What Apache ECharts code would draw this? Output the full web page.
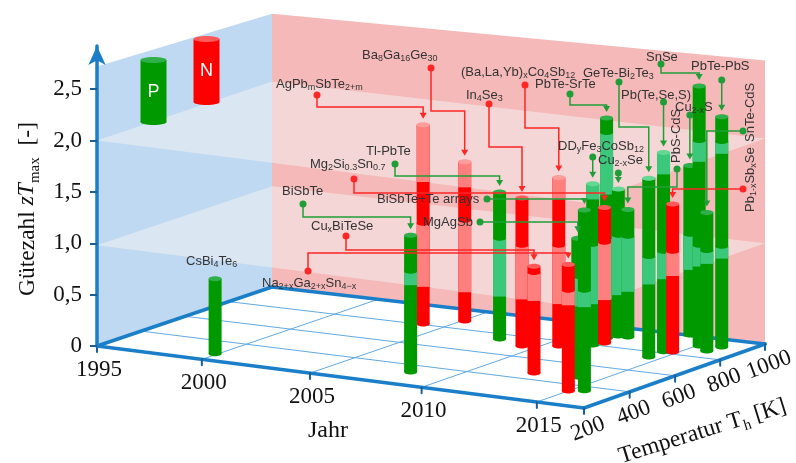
<!DOCTYPE html>
<html>
<head>
<meta charset="utf-8">
<style>
  html, body { margin: 0; padding: 0; background: #fff; }
  #chart { width: 796px; height: 463px; }
</style>
<script src="https://cdn.jsdelivr.net/npm/echarts@6/dist/echarts.min.js"></script>
</head>
<body>
<div id="chart"></div>
<script>
// values, same order in every array
var barNames = ['CsBi_{4}Te_{6}', 'BiSbTe', 'AgPb_{m}SbTe_{2+m}', 'Ba_{8}Ga_{16}Ge_{30}', 'Tl-PbTe', 'In_{4}Se_{3}',
  '(Ba,La,Yb)_{x}Co_{4}Sb_{12}', 'Cu_{x}BiTeSe', 'Na_{2+x}Ga_{2+x}Sn_{4\u2212x}', 'BiSbTe+Te arrays', 'MgAgSb',
  'Mg_{2}Si_{0.3}Sn_{0.7}', 'DD_{y}Fe_{3}CoSb_{12}', 'PbTe-SrTe', 'Cu_{2-x}Se', 'PbS-CdS', 'GeTe-Bi_{2}Te_{3}',
  'Pb(Te,Se,S)', 'Pb_{1-x}Sb_{x}Se', 'Cu_{2-x}S', 'SnSe', 'SnTe-CdS', 'PbTe-PbS'];
var barYears = [1999.9, 2008.2, 2004.0, 2005.1, 2008.0, 2009.4, 2010.6, 2012.3, 2015.0, 2015.5, 2014.05,
  2011.8, 2011.6, 2011.4, 2011.6, 2012.0, 2014.5, 2014.5, 2014.8, 2013.8, 2015.1, 2015.8, 2015.9];
var barTemps = [269, 331, 807, 885, 749, 707, 749, 464, 338, 357, 478,
  830, 798, 881, 913, 914, 746, 812, 821, 1004, 908, 868, 924];
var barZT = [0.73, 1.33, 1.94, 1.55, 1.43, 1.44, 1.64, 1.04, 1.23, 1.76, 1.35,
  1.32, 1.57, 2.14, 1.43, 1.24, 1.74, 1.94, 1.44, 1.65, 2.53, 1.35, 2.24];
var barTypes = ['P', 'P', 'N', 'N', 'P', 'N', 'N', 'N', 'N', 'P', 'P',
  'N', 'P', 'P', 'P', 'P', 'P', 'P', 'N', 'P', 'P', 'P', 'P'];

var yearTicks = [1995, 2000, 2005, 2010, 2015];
var tempTicks = [200, 400, 600, 800, 1000];
var zTicks = [0, 0.5, 1, 1.5, 2, 2.5];
var zPlanes = [0.98, 2];
var yearRange = [1995, 2017];
var tempRange = [200, 1000];
var wallTops = [2.72, 2.66, 2.76];

// label placement in page pixels: text pos, dot, elbow height of the leader line
var labelLayout = [
  { text: [186, 262] },
  { text: [282, 192], dot: [303, 204], elbow: 217 },
  { text: [276, 85], dot: [317, 95], elbow: 107 },
  { text: [362, 56], dot: [431, 68], elbow: 111 },
  { text: [366, 152], dot: [395, 164], elbow: 176 },
  { text: [466, 96], dot: [489, 104], elbow: 147 },
  { text: [461, 73], dot: [525, 85], elbow: 128 },
  { text: [311, 227], dot: [346, 236], elbow: 250 },
  { text: [262, 284], dot: [308, 271], elbow: 253 },
  { text: [377, 200], dot: [487, 199], elbow: 199 },
  { text: [423, 223], dot: [480, 222], elbow: 222 },
  { text: [310, 165], dot: [354, 179], elbow: 193 },
  { text: [558, 147], dot: [595, 157], elbow: 157 },
  { text: [535, 85], dot: [570, 94], elbow: 105 },
  { text: [598, 161], dot: [619, 173], elbow: 173 },
  { text: [677, 163], vertical: true, dot: [677, 169], elbow: 187 },
  { text: [583, 74], dot: [619, 82], elbow: 127 },
  { text: [621, 96], dot: [665, 102], elbow: 102 },
  { text: [751, 212], vertical: true, dot: [743, 189], elbow: 189 },
  { text: [675, 108], dot: [690, 115], elbow: 115 },
  { text: [646, 58], dot: [661, 64], elbow: 73 },
  { text: [751, 142], vertical: true, dot: [743, 131], elbow: 131 },
  { text: [691, 67], dot: [722, 80], elbow: 80 }
];

var GRID_LEFT = 97, GRID_RIGHT = 584;
var BAR_W = 13;
var SERIF = '"Liberation Serif", serif';
var SANS = '"Liberation Sans", Arial, sans-serif';
var RED = '#ff0000', GREEN = '#009900';
var colors = {
  P: { dark: GREEN, light: '#3cc87a', capDark: '#2fb04a', capLight: '#62d892', line: '#1f9e38' },
  N: { dark: RED, light: '#ff7f7f', capDark: '#ff5a5a', capLight: '#ff9c9c', line: '#ff2626' }
};

// floor quad on the page -> perspective coefficients
var fl = { p00: [97, 346], p10: [584, 408], p01: [272, 287], p11: [765, 344] };
var persp = (function () {
  var dx1 = fl.p10[0] - fl.p11[0], dx2 = fl.p01[0] - fl.p11[0], sx = fl.p00[0] - fl.p10[0] + fl.p11[0] - fl.p01[0];
  var dy1 = fl.p10[1] - fl.p11[1], dy2 = fl.p01[1] - fl.p11[1], sy = fl.p00[1] - fl.p10[1] + fl.p11[1] - fl.p01[1];
  var den = dx1 * dy2 - dx2 * dy1;
  var g = (sx * dy2 - dx2 * sy) / den, h = (dx1 * sy - sx * dy1) / den;
  return {
    a: fl.p10[0] - fl.p00[0] + g * fl.p10[0], b: fl.p01[0] - fl.p00[0] + h * fl.p01[0], c: fl.p00[0],
    d: fl.p10[1] - fl.p00[1] + g * fl.p10[1], e: fl.p01[1] - fl.p00[1] + h * fl.p01[1], f: fl.p00[1],
    g: g, h: h
  };
})();

// year and zT go through the cartesian axes, temperature through linearMap
function project(api, year, temp, z) {
  var c = api.coord([year, z]);
  var rise = api.coord([year, 0])[1] - c[1];
  var u = (c[0] - GRID_LEFT) / (GRID_RIGHT - GRID_LEFT);
  var v = echarts.number.linearMap(temp, tempRange, [0, 1]);
  var w = persp.g * u + persp.h * v + 1;
  return [(persp.a * u + persp.b * v + persp.c) / w, (persp.d * u + persp.e * v + persp.f) / w - rise];
}

function lineEl(p, q, color, width) {
  return { type: 'line', shape: { x1: p[0], y1: p[1], x2: q[0], y2: q[1] }, style: { stroke: color, lineWidth: width, lineCap: 'round' } };
}
function polyEl(points, fill) {
  return { type: 'polygon', shape: { points: points }, style: { fill: fill } };
}

// turn a_{b} markup into rich text
function chem(str) {
  return str.split(/(_\{[^}]*\})/).filter(Boolean).map(function (part) {
    return part[0] === '_' ? '{s|' + part.slice(2, -1) + '}' : '{n|' + part + '}';
  }).join('');
}
var chemRich = {
  n: { fontFamily: SANS, fontSize: 13, lineHeight: 15, verticalAlign: 'top', fill: '#333' },
  s: { fontFamily: SANS, fontSize: 9, verticalAlign: 'bottom', fill: '#333' }
};

function renderBackdrop(params, api) {
  var y0 = yearRange[0], y1 = yearRange[1], t0 = tempRange[0], t1 = tempRange[1];
  var kids = [];
  var a = project(api, y0, t0, 0), b = project(api, y1, t0, 0), c = project(api, y1, t1, 0), d = project(api, y0, t1, 0);
  // walls
  kids.push(polyEl([a, project(api, y0, t0, wallTops[0]), project(api, y0, t1, wallTops[1]), d], '#c0d9f2'));
  kids.push(polyEl([d, project(api, y0, t1, wallTops[1]), project(api, y1, t1, wallTops[2]), c], '#f5b9b9'));
  // translucent zT planes
  zPlanes.forEach(function (p) {
    kids.push(polyEl([project(api, y0, t0, p), project(api, y0, t1, p), project(api, y1, t1, p), project(api, y1, t0, p)], 'rgba(245,243,243,0.5)'));
  });
  // floor grid
  yearTicks.slice(1).forEach(function (yr) {
    kids.push(lineEl(project(api, yr, t0, 0), project(api, yr, t1, 0), '#62a9e4', 1));
  });
  tempTicks.slice(1, -1).forEach(function (t) {
    kids.push(lineEl(project(api, y0, t, 0), project(api, y1, t, 0), '#62a9e4', 1));
  });
  kids.push(lineEl(a, d, '#1a7fc8', 3.5), lineEl(d, c, '#1a7fc8', 3.5), lineEl(a, b, '#1a7fc8', 3.5), lineEl(b, c, '#1a7fc8', 3.5));
  // ticks and tick labels on the floor edges
  yearTicks.forEach(function (yr) {
    var p = project(api, yr, t0, 0);
    kids.push(lineEl(p, [p[0], p[1] + 6], '#1c5f96', 2));
    kids.push({ type: 'text', x: p[0] + 2, y: p[1] + 23.5, style: { text: String(yr), fontFamily: SERIF, fontSize: 23, fill: '#111', align: 'center', verticalAlign: 'middle' } });
  });
  tempTicks.forEach(function (t) {
    var p = project(api, y1, t, 0);
    kids.push(lineEl(p, [p[0], p[1] + 6], '#1c5f96', 2));
    kids.push({ type: 'text', x: p[0] + 4, y: p[1] + 21, rotation: 0.36, style: { text: String(t), fontFamily: SERIF, fontSize: 23, fill: '#111', align: 'center', verticalAlign: 'middle' } });
  });
  // axis titles
  var titleRich = {
    r: { fontFamily: SERIF, fontSize: 23.5, fill: '#111', lineHeight: 27, verticalAlign: 'top' },
    i: { fontFamily: SERIF, fontSize: 23.5, fontStyle: 'italic', fill: '#111', verticalAlign: 'top' },
    s: { fontFamily: SERIF, fontSize: 15, fill: '#111', verticalAlign: 'bottom' }
  };
  kids.push({ type: 'text', x: 328, y: 431, style: { text: 'Jahr', fontFamily: SERIF, fontSize: 24, fill: '#111', align: 'center', verticalAlign: 'middle' } });
  kids.push({ type: 'text', x: 703, y: 433, rotation: 0.3, style: { text: '{r|Temperatur T}{s|h}{r| [K]}', rich: titleRich, align: 'center', verticalAlign: 'middle' } });
  kids.push({ type: 'text', x: 29, y: 209, rotation: Math.PI / 2, style: { text: '{r|G\u00fctezahl }{i|zT}{s|max}{r|  [-]}', rich: titleRich, align: 'center', verticalAlign: 'middle' } });
  // P / N key on the left wall
  [['P', 153.5, 57, 125], ['N', 206.5, 36, 105]].forEach(function (k) {
    var col = colors[k[0]];
    kids.push({ type: 'ellipse', shape: { cx: k[1], cy: k[3] - 3, rx: 13, ry: 3 }, style: { fill: col.dark } });
    kids.push({ type: 'rect', shape: { x: k[1] - 13, y: k[2] + 3, width: 26, height: k[3] - k[2] - 6 }, style: { fill: col.dark } });
    kids.push({ type: 'ellipse', shape: { cx: k[1], cy: k[2] + 3, rx: 13, ry: 3 }, style: { fill: col.capDark } });
    kids.push({ type: 'text', x: k[1], y: (k[2] + k[3]) / 2 + 1, style: { text: k[0], fontFamily: SANS, fontSize: 18, fill: '#fff', align: 'center', verticalAlign: 'middle' } });
  });
  return { type: 'group', children: kids };
}

// lowest page y of a zT plane at page x: front edge, then the right edge
function planeEdgeY(api, p, x) {
  var f0 = project(api, yearRange[0], tempRange[0], p);
  var f1 = project(api, yearRange[1], tempRange[0], p);
  var b1 = project(api, yearRange[1], tempRange[1], p);
  var s = x <= f1[0] ? [f0, f1] : [f1, b1];
  return s[0][1] + (x - s[0][0]) * (s[1][1] - s[0][1]) / (s[1][0] - s[0][0]);
}

function renderBar(params, api) {
  var yr = api.value(0), zt = api.value(1), temp = api.value(2), type = barTypes[api.value(3)];
  var col = colors[type];
  var base = project(api, yr, temp, 0), top = project(api, yr, temp, zt);
  var x = base[0], rx = BAR_W / 2, capLit = false;
  var kids = [
    { type: 'ellipse', shape: { cx: x, cy: base[1], rx: rx, ry: 2.5 }, style: { fill: col.dark } },
    { type: 'rect', shape: { x: x - rx, y: top[1], width: BAR_W, height: base[1] - top[1] }, style: { fill: col.dark } }
  ];
  // the part of a bar under a plane and seen through it is paler
  zPlanes.forEach(function (p) {
    var from = project(api, yr, temp, Math.min(p, zt))[1];
    var to = Math.min(planeEdgeY(api, p, x), base[1]);
    if (to > from) {
      kids.push({ type: 'rect', shape: { x: x - rx, y: from, width: BAR_W, height: to - from }, style: { fill: col.light } });
      if (zt <= p) capLit = true;
      else kids.push({ type: 'ellipse', shape: { cx: x, cy: from, rx: rx, ry: 2.5 }, style: { fill: col.dark } });
    }
  });
  kids.push({ type: 'ellipse', shape: { cx: x, cy: top[1], rx: rx, ry: 2.5 }, style: { fill: capLit ? col.capLight : col.capDark } });
  return { type: 'group', children: kids };
}

function renderLabels(params, api) {
  var kids = [];
  barNames.forEach(function (name, i) {
    var lay = labelLayout[i];
    var textEl = { type: 'text', x: lay.text[0], y: lay.text[1], style: { text: chem(name), rich: chemRich, align: 'left', verticalAlign: 'middle' } };
    if (lay.vertical) textEl.rotation = Math.PI / 2;
    kids.push(textEl);
    if (!lay.dot) return;
    var col = colors[barTypes[i]].line;
    var top = project(api, barYears[i], barTemps[i], barZT[i]);
    var tip = [top[0], top[1] - 6];
    var dot = lay.dot.slice();
    if (Math.abs(dot[0] - tip[0]) < 4) dot[0] = tip[0];
    kids.push({ type: 'polyline', shape: { points: [dot, [dot[0], lay.elbow], [tip[0], lay.elbow], [tip[0], tip[1] - 4]] }, style: { stroke: col, lineWidth: 1.5, fill: null } });
    kids.push({ type: 'polygon', shape: { points: [[tip[0] - 3.5, tip[1] - 6], [tip[0] + 3.5, tip[1] - 6], tip] }, style: { fill: col } });
    kids.push({ type: 'circle', shape: { cx: dot[0], cy: dot[1], r: 3.5 }, style: { fill: col } });
  });
  return { type: 'group', children: kids };
}

// far bars first so near ones cover them
var barOrder = barNames.map(function (n, i) { return i; }).sort(function (p, q) {
  return (barYears[p] - barTemps[p] / 250) - (barYears[q] - barTemps[q] / 250);
});
var barData = barOrder.map(function (i) { return [barYears[i], barZT[i], barTemps[i], i]; });

var myChart = echarts.init(document.getElementById('chart'), null, { renderer: 'canvas' });
var option = {
  backgroundColor: '#fff',
  animation: false,
  grid: { left: GRID_LEFT, right: 796 - GRID_RIGHT, top: 46, bottom: 117 },
  xAxis: { type: 'value', min: yearRange[0], max: yearRange[1], show: false, splitLine: { show: false } },
  yAxis: {
    type: 'value', min: 0, max: 2.92, z: 10,
    splitLine: { show: false },
    axisLine: { show: true, onZero: false, symbol: ['none', 'arrow'], symbolSize: [13, 19], lineStyle: { color: '#1a7fc8', width: 3.5 } },
    axisTick: { show: true, length: 7, customValues: zTicks, lineStyle: { color: '#1c5f96', width: 2 } },
    axisLabel: {
      show: true, margin: 15, padding: [0, 0, 4, 0], fontFamily: SERIF, fontSize: 23, color: '#111', customValues: zTicks,
      formatter: function (v) { return v === 0 ? '0' : v.toFixed(1).replace('.', ','); }
    }
  },
  series: [
    { type: 'custom', silent: true, clip: false, data: [[1995, 0]], renderItem: renderBackdrop, z: 1 },
    { type: 'custom', silent: true, clip: false, data: barData, renderItem: renderBar, z: 2 },
    { type: 'custom', silent: true, clip: false, data: [[1995, 0]], renderItem: renderLabels, z: 3 }
  ]
};
myChart.setOption(option);
</script>
</body>
</html>
